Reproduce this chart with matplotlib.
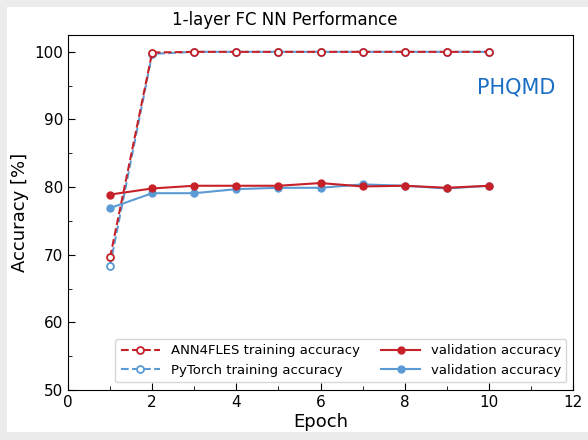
import matplotlib
matplotlib.use("Agg")
import matplotlib.pyplot as plt
from matplotlib.patches import Rectangle
from matplotlib.ticker import MultipleLocator

# data
epochs = [1, 2, 3, 4, 5, 6, 7, 8, 9, 10]
ann_train = [69.6, 99.9, 100, 100, 100, 100, 100, 100, 100, 100]
torch_train = [68.4, 99.7, 100, 100, 100, 100, 100, 100, 100, 100]
ann_val = [78.9, 79.8, 80.2, 80.2, 80.2, 80.6, 80.1, 80.2, 79.9, 80.2]
torch_val = [76.9, 79.1, 79.1, 79.7, 79.9, 79.9, 80.4, 80.2, 79.8, 80.2]

red = "#c62128"
blue = "#5b9bd5"

fig = plt.figure(figsize=(5.88, 4.4), dpi=100, facecolor="#ececec")
# white panel like the screenshot frame
fig.patches.append(Rectangle((0.012, 0.018), 0.988, 0.966, transform=fig.transFigure,
                             facecolor="white", edgecolor="none", zorder=-10))
ax = fig.add_axes([0.1156, 0.1136, 0.859, 0.807])
ax.set_facecolor("white")

ax.plot(epochs, torch_train, "--o", color=blue, mfc="white", ms=5, mew=1.3, lw=1.5,
        label="PyTorch training accuracy", zorder=2)
ax.plot(epochs, ann_train, "--o", color=red, mfc="white", ms=5, mew=1.3, lw=1.5,
        label="ANN4FLES training accuracy", zorder=3)
ax.plot(epochs, torch_val, "-o", color=blue, ms=5, lw=1.5,
        label="validation accuracy", zorder=2)
ax.plot(epochs, ann_val, "-o", color=red, ms=5, lw=1.5,
        label="validation accuracy", zorder=3)

h, l = ax.get_legend_handles_labels()
order = [1, 0, 3, 2]
ax.legend([h[i] for i in order], [l[i] for i in order], ncol=2, loc="lower right",
          fontsize=9.5, bbox_to_anchor=(0.987, 0.022), borderaxespad=0,
          handlelength=3.0, columnspacing=1.6)

ax.set_xlim(0, 12)
ax.set_ylim(50, 102.5)
ax.xaxis.set_major_locator(MultipleLocator(2))
ax.xaxis.set_minor_locator(MultipleLocator(1))
ax.yaxis.set_major_locator(MultipleLocator(10))
ax.yaxis.set_minor_locator(MultipleLocator(5))
ax.tick_params(which="both", direction="in", labelsize=11)
ax.tick_params(which="major", length=5)
ax.tick_params(which="minor", length=3)

# title sits left of the axes centre in the reference
fig.text(0.485, 0.955, "1-layer FC NN Performance", ha="center", va="center", fontsize=12)
ax.set_xlabel("Epoch", fontsize=13, labelpad=2)
ax.set_ylabel("Accuracy [%]", fontsize=13)
ax.text(0.964, 0.851, "PHQMD", transform=ax.transAxes, ha="right", va="center",
        fontsize=15, color="#1a6fc4")

fig.savefig("out.png", dpi=100, facecolor=fig.get_facecolor())
